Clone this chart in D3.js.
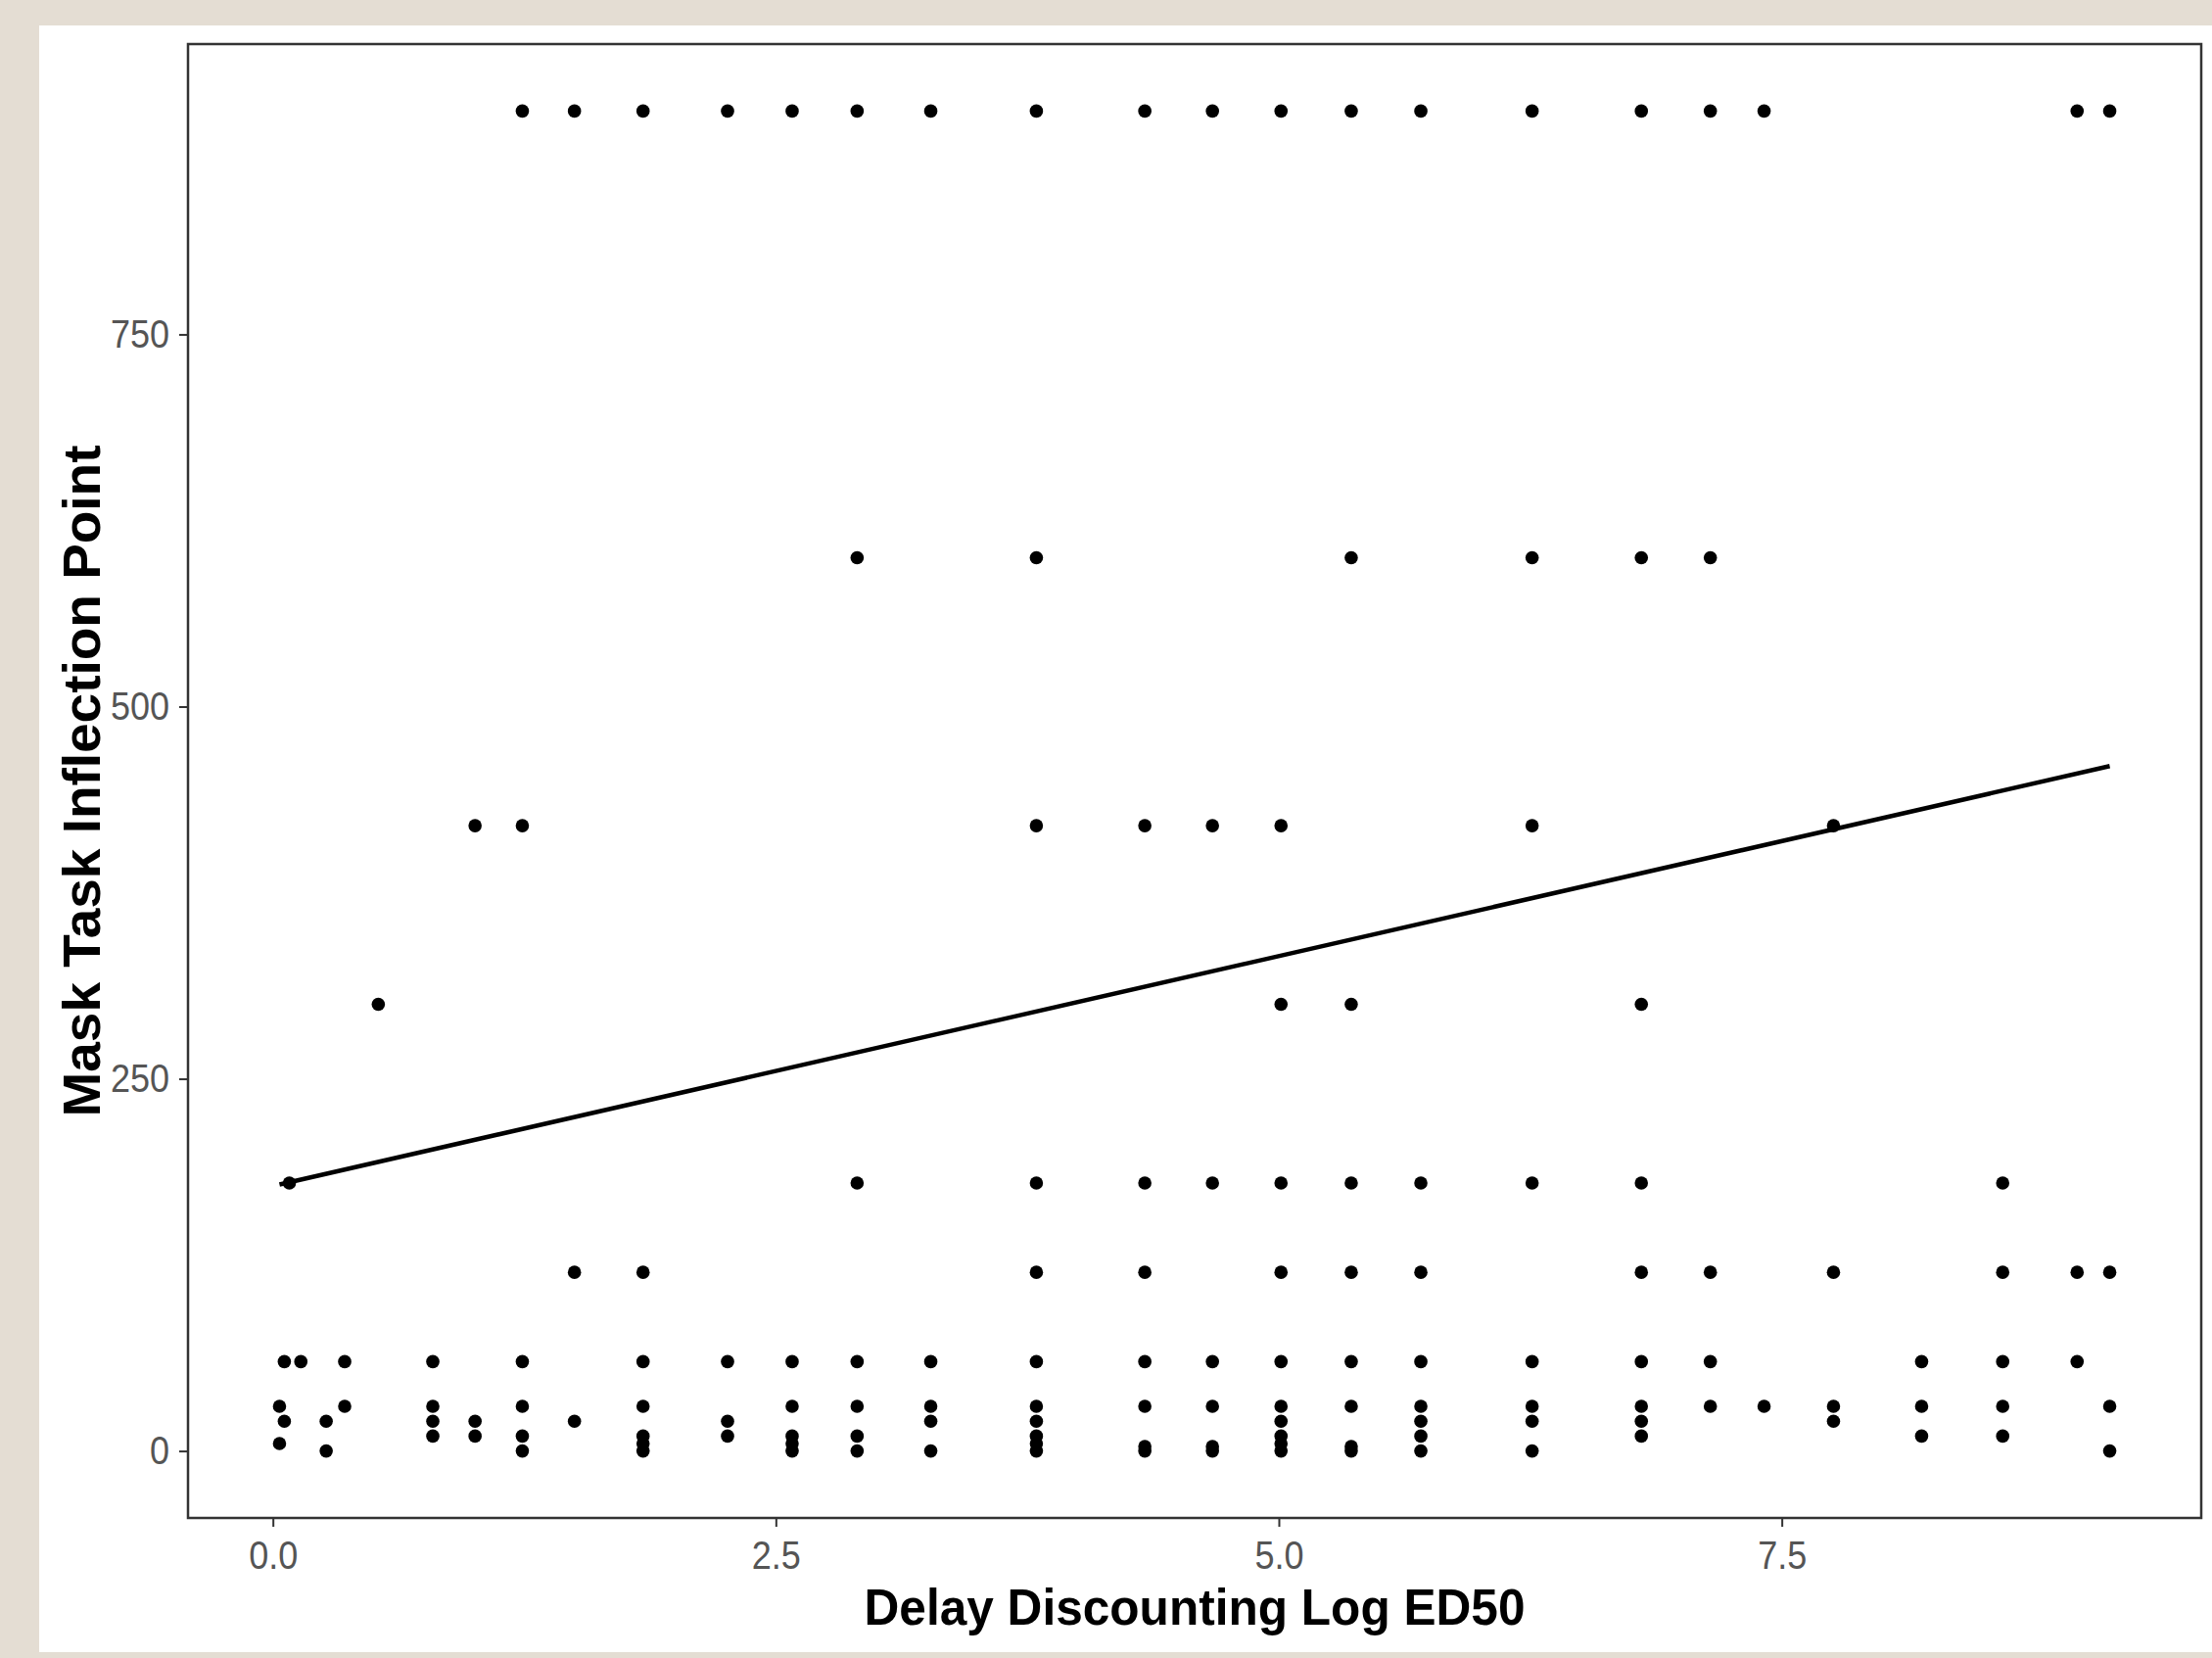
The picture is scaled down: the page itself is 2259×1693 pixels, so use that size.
<!DOCTYPE html>
<html>
<head>
<meta charset="utf-8">
<script src="https://cdn.jsdelivr.net/npm/d3@7"></script>
<style>
  html, body { margin: 0; padding: 0; background: #e4ddd3; }
  svg { display: block; }
</style>
</head>
<body>
<div id="chart"></div>
<script>
// Delay discounting (log ED50) columns and the mask task values at each
var ed50 = [0.033, 0.057, 0.082, 0.139, 0.265, 0.357, 0.524, 0.795, 1.005, 1.240,
            1.499, 1.840, 2.260, 2.581, 2.904, 3.270, 3.795, 4.334, 4.670, 5.011,
            5.360, 5.706, 6.259, 6.802, 7.145, 7.412, 7.757, 8.195, 8.598, 8.968, 9.130];
var inflection = [
  [30, 5], [60, 20], [180], [60], [20, 0], [60, 30], [300], [60, 30, 20, 10],
  [420, 20, 10], [900, 420, 60, 30, 10, 0], [900, 120, 20],
  [900, 120, 60, 30, 10, 5, 0], [900, 60, 20, 10], [900, 60, 30, 10, 5, 0],
  [900, 600, 180, 60, 30, 10, 0], [900, 60, 30, 20, 0],
  [900, 600, 420, 180, 120, 60, 30, 20, 10, 5, 0], [900, 420, 180, 120, 60, 30, 3, 0],
  [900, 420, 180, 60, 30, 3, 0], [900, 420, 300, 180, 120, 60, 30, 20, 10, 5, 0],
  [900, 600, 300, 180, 120, 60, 30, 3, 0], [900, 180, 120, 60, 30, 20, 10, 0],
  [900, 600, 420, 180, 60, 30, 20, 0], [900, 600, 300, 180, 120, 60, 30, 20, 10],
  [900, 600, 120, 60, 30], [900, 30], [420, 120, 30, 20], [60, 30, 10],
  [180, 120, 60, 30, 10], [900, 120, 60], [900, 120, 30, 0]
];
// fitted line ends
var fitX = [0.033, 9.13];
var fitY = [179, 460];
var xTicks = [0, 2.5, 5, 7.5];
var yTicks = [0, 250, 500, 750];

var W = 2259, H = 1693;
var panelLeft = 192, panelRight = 2248, panelTop = 45, panelBottom = 1550;
var font = "'Liberation Sans', Arial, sans-serif";

var points = [];
ed50.forEach(function (x, i) {
  inflection[i].forEach(function (y) { points.push({x: x, y: y}); });
});

var svg = d3.select("#chart").append("svg").attr("width", W).attr("height", H);
svg.append("rect").attr("width", W).attr("height", H).attr("fill", "#e4ddd3");
svg.append("rect").attr("x", 40).attr("y", 26).attr("width", W - 40).attr("height", 1661).attr("fill", "#ffffff");

// ggplot style 5% expansion
var xMin = d3.min(ed50), xMax = d3.max(ed50), xPad = (xMax - xMin) * 0.05;
var x = d3.scaleLinear().domain([xMin - xPad, xMax + xPad]).range([panelLeft, panelRight]);
var y = d3.scaleLinear().domain([-45, 945]).range([panelBottom, panelTop]);

var xAxis = svg.append("g").attr("transform", "translate(0," + panelBottom + ")")
  .call(d3.axisBottom(x).tickValues(xTicks).tickFormat(d3.format(".1f")).tickSize(9).tickPadding(15));
var yAxis = svg.append("g").attr("transform", "translate(" + panelLeft + ",0)")
  .call(d3.axisLeft(y).tickValues(yTicks).tickSize(9).tickPadding(10));

[xAxis, yAxis].forEach(function (g) {
  g.select(".domain").remove();
  g.selectAll(".tick line").attr("stroke", "#333333").attr("stroke-width", 2);
  g.selectAll(".tick text")
    .attr("fill", "#555555")
    .style("font-family", font)
    .style("font-size", "40px")
    .each(function () {
      var len = this.getComputedTextLength();
      d3.select(this).attr("textLength", len * 0.9).attr("lengthAdjust", "spacingAndGlyphs");
    });
});

// points
svg.append("g").selectAll("circle")
  .data(points)
  .enter()
  .append("circle")
  .attr("cx", function (d) { return x(d.x); })
  .attr("cy", function (d) { return y(d.y); })
  .attr("r", 6.8)
  .attr("fill", "#000000");

// fitted line
svg.append("path")
  .datum(d3.zip(fitX, fitY))
  .attr("d", d3.line().x(function (d) { return x(d[0]); }).y(function (d) { return y(d[1]); }))
  .attr("fill", "none")
  .attr("stroke", "#000000")
  .attr("stroke-width", 4.5);

// panel border
svg.append("rect")
  .attr("x", panelLeft).attr("y", panelTop)
  .attr("width", panelRight - panelLeft).attr("height", panelBottom - panelTop)
  .attr("fill", "none").attr("stroke", "#333333").attr("stroke-width", 2.5);

// axis titles
svg.append("text")
  .attr("x", (panelLeft + panelRight) / 2).attr("y", 1659)
  .attr("text-anchor", "middle")
  .attr("textLength", 675).attr("lengthAdjust", "spacingAndGlyphs")
  .style("font-family", font).style("font-weight", "bold").style("font-size", "52px")
  .text("Delay Discounting Log ED50");

svg.append("text")
  .attr("transform", "translate(102," + (panelTop + panelBottom) / 2 + ") rotate(-90)")
  .attr("text-anchor", "middle")
  .attr("textLength", 686).attr("lengthAdjust", "spacingAndGlyphs")
  .style("font-family", font).style("font-weight", "bold").style("font-size", "53px")
  .text("Mask Task Inflection Point");
</script>
</body>
</html>
